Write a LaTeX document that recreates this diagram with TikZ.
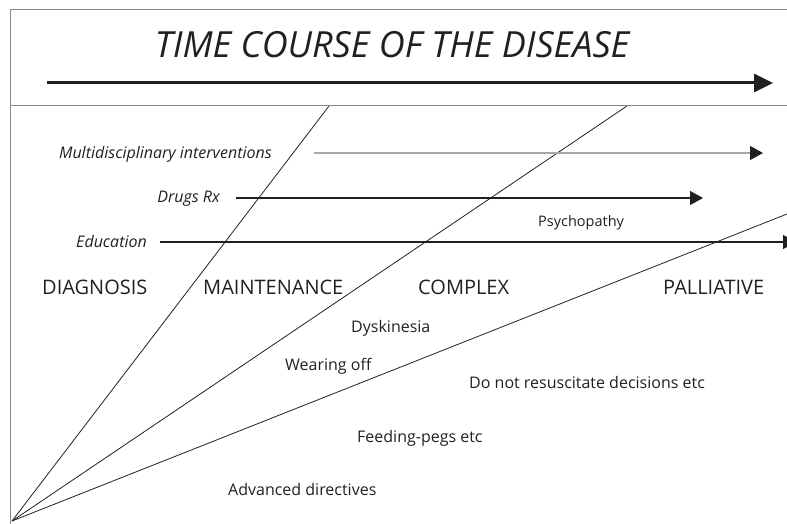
\documentclass[tikz,border=0pt]{standalone}
\usepackage{fontspec}
\setmainfont{Open Sans}
\usetikzlibrary{arrows.meta}

\definecolor{ink}{HTML}{231F20}
\definecolor{framegray}{HTML}{8A8A8A}
\definecolor{lightgray}{HTML}{A8A8A8}

\tikzset{
  lbl/.style={inner sep=0pt, text=ink, font=\fontsize{16}{19}\selectfont},
  itlbl/.style={lbl, font=\fontsize{16}{19}\selectfont\itshape},
  smalllbl/.style={lbl, font=\fontsize{14.5}{17}\selectfont},
  phase/.style={inner sep=0pt, text=ink, font=\fontsize{20}{24}\selectfont},
  titletext/.style={inner sep=0pt, text=ink, font=\fontsize{36}{42}\selectfont\itshape},
  fan/.style={ink, line width=0.8pt},
  bar/.style={ink, line width=1.4pt, -{Triangle[length=13pt,width=14pt]}}
}

\begin{document}
\begin{tikzpicture}[x=1pt, y=-1pt]
      \clip (0,0) rectangle (787,524);
      % frame
      \draw[framegray, line width=1pt] (787,10) -- (10,10) -- (10,524);
      \draw[framegray, line width=1pt] (10,106) -- (787,106);

      % title and time arrow
      \node[titletext, anchor=base] (title) at (392,58) {TIME COURSE OF THE DISEASE};
      \coordinate (t0) at (47,83);
      \coordinate (t1) at (773,83);
      \draw[ink, line width=3pt, -{Triangle[length=19pt,width=18pt]}] (t0) -- (t1);

      % fan of stages
      \coordinate (o) at (12,521);
      \foreach \ex/\ey in {329/106, 627/106, 787/214}{
        \draw[fan] (o) -- (\ex,\ey);
      }

      % interventions
      \node[itlbl, anchor=base east] (multi) at (272,158) {Multidisciplinary interventions};
      \node[itlbl, anchor=base east] (drugs) at (220,202) {Drugs Rx};
      \node[itlbl, anchor=base east] (edu) at (147,247) {Education};
      \coordinate (m0) at (314,153);
      \coordinate (m1) at (763,153);
      \coordinate (d0) at (236,198);
      \coordinate (d1) at (703,198);
      \coordinate (e0) at (160,242);
      \coordinate (e1) at (796,242);
      \draw[bar, lightgray, -{Triangle[length=13pt,width=14pt,color=ink]}] (m0) -- (m1);
      \draw[bar] (d0) -- (d1);
      \draw[bar] (e0) -- (e1);
      \node[smalllbl, anchor=base west] (psy) at (538,226) {Psychopathy};

      % stages
      \foreach \stage/\sx in {DIAGNOSIS/42, MAINTENANCE/203, COMPLEX/418, PALLIATIVE/663}{
        \node[phase, anchor=base west] (\stage) at (\sx,294) {\stage};
      }

      % problems
      \node[lbl, anchor=base west] (dysk) at (351,332) {Dyskinesia};
      \node[lbl, anchor=base west] (wear) at (285,370) {Wearing off};
      \node[lbl, anchor=base west] (dnr) at (469,388) {Do not resuscitate decisions etc};
      \node[lbl, anchor=base west] (peg) at (357,442) {Feeding-pegs etc};
      \node[lbl, anchor=base west] (adv) at (228,495) {Advanced directives};
\end{tikzpicture}
\end{document}
